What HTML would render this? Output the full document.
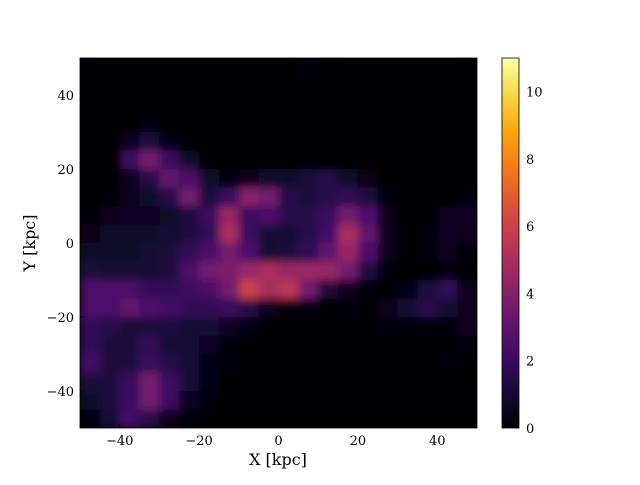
<!DOCTYPE html>
<html><head><meta charset="utf-8"><style>
body{margin:0;background:#fff;}
svg text{font-family:"DejaVu Serif","Liberation Serif",serif;fill:#000;}
</style></head><body>
<svg id="chart" width="640" height="480" viewBox="0 0 640 480" xmlns="http://www.w3.org/2000/svg">
<defs>
<clipPath id="plotclip"><rect x="80" y="58" width="397" height="370"/></clipPath>
<filter id="blur" x="-10%" y="-10%" width="120%" height="120%"><feGaussianBlur stdDeviation="4.5"/></filter>
<linearGradient id="cbgrad" x1="0" y1="1" x2="0" y2="0">
<stop offset="0" stop-color="#000004"/><stop offset="0.1" stop-color="#160b39"/><stop offset="0.2" stop-color="#420a68"/><stop offset="0.3" stop-color="#6a176e"/><stop offset="0.4" stop-color="#932667"/><stop offset="0.5" stop-color="#bc3754"/><stop offset="0.6" stop-color="#dd513a"/><stop offset="0.7" stop-color="#f37819"/><stop offset="0.8" stop-color="#fca50a"/><stop offset="0.9" stop-color="#f6d746"/><stop offset="1" stop-color="#fcffa4"/>
</linearGradient>
</defs>
<rect x="80" y="58" width="397" height="370" fill="#000004"/>
<g id="cells" clip-path="url(#plotclip)"><g id="cellsinner" filter="url(#blur)"></g></g>
<rect x="80" y="58" width="397" height="370" fill="none" stroke="#000" stroke-width="0.8"/>
<g id="axes"></g>
<text x="278" y="465" font-size="16" text-anchor="middle">X [kpc]</text>
<text transform="translate(35,243) rotate(-90)" font-size="16" text-anchor="middle">Y [kpc]</text>
<rect x="502" y="58" width="17" height="370" fill="url(#cbgrad)" stroke="#000" stroke-width="0.8"/>
</svg>
<script>
const xTicks=[-40,-20,0,20,40];
const yTicks=[-40,-20,0,20,40];
const cbTicks=[0,2,4,6,8,10];
const cbMax=11;
const rowY=[47.5,42.5,37.5,32.5,27.5,22.5,17.5,12.5,7.5,2.5,-2.5,-7.5,-12.5,-17.5,-22.5,-27.5,-32.5,-37.5,-42.5,-47.5];
const colX=[-47.5,-42.5,-37.5,-32.5,-27.5,-22.5,-17.5,-12.5,-7.5,-2.5,2.5,7.5,12.5,17.5,22.5,27.5,32.5,37.5,42.5,47.5];
const density=[
[0,0,0,0,0,0,0,0,0,0,0,0.2,0,0,0,0,0,0,0,0],
[0,0,0,0,0,0,0,0,0,0,0,0,0,0,0,0,0,0,0,0],
[0,0,0,0,0,0,0,0,0,0,0,0,0,0,0,0,0,0,0,0],
[0,0,0,0.2,0,0,0,0,0,0,0,0,0,0,0,0,0,0,0,0],
[0,0,0.6,1.2,0.3,0,0,0,0,0,0,0,0,0,0,0,0,0,0,0],
[0,0,2,3.5,2,0.8,0,0,0,0,0,0,0,0,0,0,0,0,0,0],
[0,0,0.5,1.5,3,2.5,0.8,0.2,0.5,0.8,0.8,1.2,1.5,0.8,0.4,0,0,0,0,0],
[0,0.2,0.5,0.8,1.5,3.5,1.2,2,4,3.5,1.5,1.2,1.5,1.8,1.2,0.2,0,0,0,0.2],
[0.2,0.4,0.6,0.6,0.8,1.2,2,4.5,2,2.5,1.5,1.5,2,3.5,2.5,0.5,0,0,0.6,0.6],
[0.4,0.8,0.8,0.8,1,1.2,1.8,5,2,1,1,1.5,2.2,5,3,0.5,0,0.2,0.6,0.5],
[0.8,0.8,0.8,1,1.2,1.8,2.5,3.5,2.5,1,1.2,1.8,3,4.5,2.5,0.5,0,0.2,0.5,0.2],
[1.2,1,1,1,1.2,2.5,3.5,3.8,4.5,5,4.5,4.5,4.5,3.5,1.2,0.2,0,0,0.2,0],
[2.5,2.5,2.5,1.8,1.8,2,2.5,3.5,6,5,5.5,3.5,1.2,0.5,0.2,0,0.3,1.2,1.8,0.5],
[2.5,2.5,3,2.5,2.2,1.8,1.8,2,1.5,0.5,0.2,0.1,0,0.1,0,0.5,1,1.5,1,0.5],
[1.8,1.5,1.2,1.2,1.2,1,1,0.6,0.3,0,0,0,0,0,0,0.2,0.2,0.2,0.2,0.5],
[1.8,1.2,1.2,1.8,1,1,0.6,0.2,0,0,0,0,0,0,0,0,0,0,0,0.2],
[2.2,1.2,1.2,2,1.5,1,0.3,0.1,0,0,0,0,0,0,0,0,0,0,0.1,0],
[1.2,1.2,2,3.5,2,1,0.3,0,0,0,0,0,0,0,0,0,0,0,0,0],
[0.8,1.2,2,3.5,2,0.6,0.1,0,0,0,0,0,0,0,0,0,0,0,0,0],
[0.2,1,2.2,1.5,0.5,0.1,0,0,0,0,0,0,0,0,0,0,0,0,0,0]
];
const NS="http://www.w3.org/2000/svg";
const X0=80,X1=477,Y0=58,Y1=428;
const sx=v=>X0+(v+50)/100*(X1-X0);
const sy=v=>Y1-(v+50)/100*(Y1-Y0);
const cy=v=>Y1-v/cbMax*(Y1-Y0);
const stops=["#000004","#160b39","#420a68","#6a176e","#932667","#bc3754","#dd513a","#f37819","#fca50a","#f6d746","#fcffa4"];
function hx(h){return [1,3,5].map(i=>parseInt(h.substr(i,2),16));}
function cmap(t){t=Math.max(0,Math.min(1,t));const f=t*10,i=Math.min(9,Math.floor(f)),r=f-i;const a=hx(stops[i]),b=hx(stops[i+1]);return "rgb("+a.map((v,k)=>Math.round(v+(b[k]-v)*r)).join(",")+")";}
function mk(tag,attrs,parent){const e=document.createElementNS(NS,tag);for(const k in attrs)e.setAttribute(k,attrs[k]);parent.appendChild(e);return e;}
const cells=document.getElementById("cellsinner");
const cw=(X1-X0)/20,ch=(Y1-Y0)/20;
density.forEach((row,r)=>row.forEach((v,c)=>{
  if(v<=0)return;
  const e=mk("rect",{x:sx(colX[c])-cw/2,y:sy(rowY[r])-ch/2,width:cw+0.5,height:ch+0.5,fill:cmap(v/cbMax)},cells);
  
  
}));
const ax=document.getElementById("axes");
xTicks.forEach(t=>{
  const l=mk("line",{x1:sx(t),x2:sx(t),y1:Y1,y2:Y1-4,stroke:"#000","stroke-width":0.8},ax);
  
  
  const tx=mk("text",{x:sx(t),y:Y1+17,"font-size":13,"text-anchor":"middle"},ax);
  tx.textContent=t<0?"\u2212"+(-t):t;
  
  
});
yTicks.forEach(t=>{
  const l=mk("line",{x1:X0,x2:X0+4,y1:sy(t),y2:sy(t),stroke:"#000","stroke-width":0.8},ax);
  
  
  const tx=mk("text",{x:X0-6,y:sy(t)+5,"font-size":13,"text-anchor":"end"},ax);
  tx.textContent=t<0?"\u2212"+(-t):t;
  
  
});
cbTicks.forEach(t=>{
  const l=mk("line",{x1:519,x2:515,y1:cy(t),y2:cy(t),stroke:"#000","stroke-width":0.8},ax);
  
  
  const tx=mk("text",{x:526,y:cy(t)+5,"font-size":13,"text-anchor":"start"},ax);
  tx.textContent=t;
  
  
});
</script>
</body></html>
